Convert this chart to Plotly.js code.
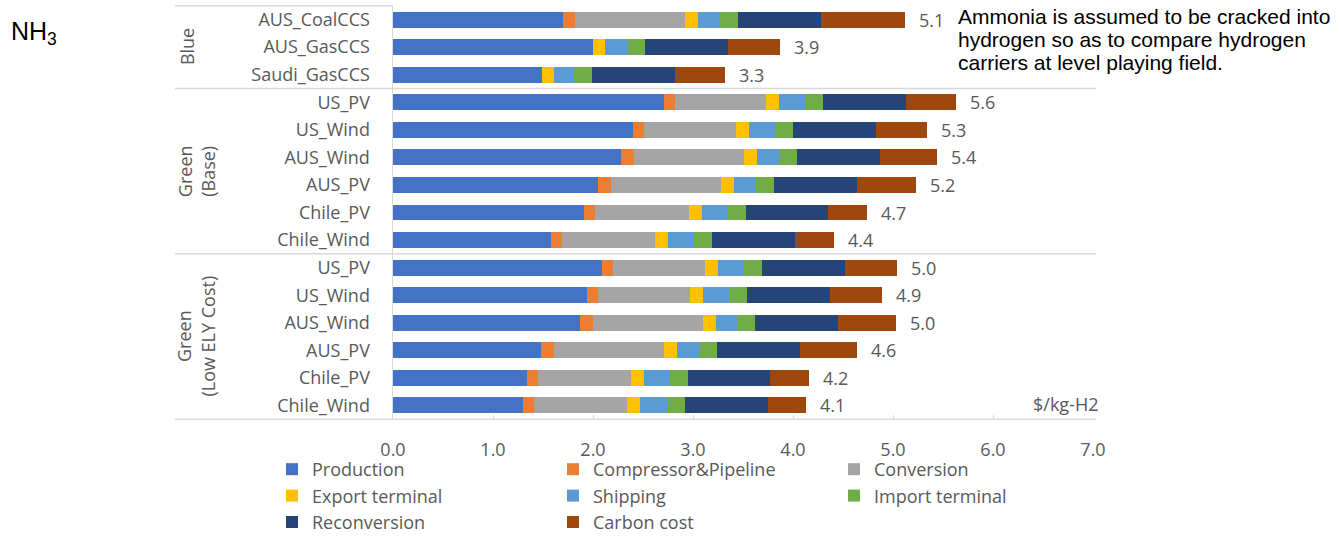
<!DOCTYPE html>
<html>
<head>
<meta charset="utf-8">
<script src="https://cdn.plot.ly/plotly-3.0.1.min.js"></script>
<style>html,body{margin:0;padding:0;background:#fff;}#chart{width:1340px;height:541px;}</style>
</head>
<body>
<div id="chart"></div>
<script>
// ---- data ----
const groupNames = ["Blue", "Green<br>(Base)", "Green<br>(Low ELY Cost)"];
const groupOfRow = [0,0,0, 1,1,1,1,1,1, 2,2,2,2,2,2];
const rowNames = ["AUS_CoalCCS","AUS_GasCCS","Saudi_GasCCS",
  "US_PV","US_Wind","AUS_Wind","AUS_PV","Chile_PV","Chile_Wind",
  "US_PV","US_Wind","AUS_Wind","AUS_PV","Chile_PV","Chile_Wind"];
const production   = [1.70,2.00,1.49, 2.71,2.40,2.28,2.05,1.91,1.58, 2.09,1.94,1.87,1.48,1.34,1.30];
const compressor   = [0.12,0.00,0.00, 0.11,0.11,0.13,0.13,0.11,0.11, 0.11,0.11,0.13,0.13,0.11,0.11];
const conversion   = [1.10,0.00,0.00, 0.91,0.92,1.10,1.10,0.94,0.93, 0.92,0.92,1.10,1.10,0.93,0.93];
const exportTerm   = [0.13,0.12,0.12, 0.13,0.13,0.13,0.13,0.13,0.13, 0.13,0.13,0.13,0.13,0.13,0.13];
const shipping     = [0.22,0.22,0.20, 0.26,0.26,0.22,0.22,0.26,0.26, 0.26,0.26,0.21,0.22,0.26,0.27];
const importTerm   = [0.18,0.18,0.18, 0.18,0.18,0.18,0.18,0.18,0.18, 0.18,0.18,0.18,0.18,0.18,0.18];
const reconversion = [0.83,0.83,0.83, 0.83,0.83,0.83,0.83,0.82,0.83, 0.83,0.83,0.83,0.83,0.82,0.83];
const carbon       = [0.84,0.52,0.50, 0.50,0.51,0.57,0.59,0.39,0.39, 0.52,0.52,0.58,0.57,0.39,0.38];
const seriesNames  = ["Production","Compressor&Pipeline","Conversion","Export terminal","Shipping","Import terminal","Reconversion","Carbon cost"];
const seriesColors = ["#4472C4","#ED7D31","#A5A5A5","#FFC000","#5B9BD5","#70AD47","#264478","#9E480E"];
const xTicks = [0,1,2,3,4,5,6,7];
const noteLines = ["Ammonia is assumed to be cracked into", "hydrogen so as to compare hydrogen", "carriers at level playing field."];

// ---- build ----
const seriesValues = [production, compressor, conversion, exportTerm, shipping, importTerm, reconversion, carbon];
const keys = rowNames.map((n,i) => "g" + groupOfRow[i] + ":" + n);
const totals = rowNames.map((n,i) => seriesValues.reduce((s,arr) => s + arr[i], 0));

const FONT = "Open Sans, Noto Sans, sans-serif";
const ARIAL = "Liberation Sans, Arial, sans-serif";
const GRAY = "#595959";
const LINE = "#d9d9d9";
const FS = 18;

// plot-area geometry (pixels) used to place free texts in paper coordinates
const M = {l: 393, r: 247, t: 5, b: 121};
const PW = 1340 - M.l - M.r, PH = 541 - M.t - M.b;
const px = x => (x - M.l) / PW;
const py = y => (541 - M.b - y) / PH;

const traces = seriesValues.map((vals, k) => ({
  type: "bar",
  orientation: "h",
  name: seriesNames[k],
  x: vals,
  y: keys,
  marker: {color: seriesColors[k], line: {width: 0}},
  hoverinfo: "skip"
}));

const annotations = [];
// totals
keys.forEach((key,i) => {
  annotations.push({
    x: totals[i], y: key, xref: "x", yref: "y",
    text: (Math.round(totals[i]*10)/10).toFixed(1),
    showarrow: false, xanchor: "left", xshift: 12,
    font: {family: FONT, size: FS, color: GRAY}
  });
});
// group labels
const groupRows = groupNames.map((g,gi) => groupOfRow.map((v,i)=>v===gi?i:-1).filter(i=>i>=0));
groupNames.forEach((g,gi) => {
  const r = groupRows[gi];
  annotations.push({
    x: gi === 0 ? px(187) : px(196), xref: "paper",
    y: (r[0] + r[r.length-1]) / 2, yref: "y",
    text: g, textangle: -90, showarrow: false,
    xanchor: "center", yanchor: "middle", align: "center",
    font: {family: FONT, size: FS, color: GRAY}
  });
});
// note text, one annotation per line
noteLines.forEach((t, li) => {
  annotations.push({
    x: px(956), xref: "paper", y: py(16.5 + li*23), yref: "paper",
    text: t, showarrow: false, xanchor: "left", yanchor: "middle", align: "left",
    font: {family: ARIAL, size: 21, color: "#000"}
  });
});
annotations.push({
  x: px(9), xref: "paper", y: py(33), yref: "paper",
  text: "NH<sub>3</sub>", showarrow: false, xanchor: "left", yanchor: "middle",
  font: {family: ARIAL, size: 25, color: "#000"}
});
annotations.push({
  x: px(1100), xref: "paper", y: py(404), yref: "paper",
  text: "$/kg-H2", showarrow: false, xanchor: "right", yanchor: "middle",
  font: {family: FONT, size: FS, color: GRAY}
});

// separator lines
const shapes = [];
const lineStyle = {color: LINE, width: 1.5};
shapes.push({type: "line", xref: "paper", yref: "y", x0: px(175), x1: 0, y0: -0.5, y1: -0.5, line: lineStyle});
let acc = 0;
groupRows.forEach((r,gi) => {
  acc += r.length;
  shapes.push({type: "line", xref: "paper", yref: "y", x0: px(175), x1: px(1096), y0: acc - 0.5, y1: acc - 0.5, line: lineStyle});
});

const layout = {
  width: 1340, height: 541,
  margin: {l: M.l, r: M.r, t: M.t, b: M.b, pad: 0, autoexpand: false},
  paper_bgcolor: "#fff", plot_bgcolor: "#fff",
  barmode: "stack", bargap: 0.42,
  font: {family: FONT, size: FS, color: GRAY},
  xaxis: {
    range: [0, 7], tickvals: xTicks, ticktext: xTicks.map(v => v.toFixed(1)),
    showgrid: false, zeroline: false, showline: false,
    ticks: "inside", ticklen: 5, tickcolor: LINE, tickwidth: 1,
    ticklabelstandoff: 17,
    tickfont: {family: FONT, size: FS, color: GRAY}, fixedrange: true
  },
  yaxis: {
    type: "category", categoryorder: "array", categoryarray: keys,
    tickvals: keys, ticktext: rowNames, autorange: "reversed",
    showgrid: false, zeroline: false, showline: true, linecolor: LINE, linewidth: 1.5,
    ticks: "", ticklabelstandoff: 18,
    tickfont: {family: FONT, size: FS, color: GRAY}, fixedrange: true
  },
  legend: {
    orientation: "h", x: px(272), xanchor: "left",
    y: py(451), yanchor: "top",
    entrywidth: 236, entrywidthmode: "pixels", traceorder: "normal",
    itemwidth: 30, tracegroupgap: 0,
    font: {family: FONT, size: FS, color: GRAY}, bgcolor: "rgba(0,0,0,0)"
  },
  annotations: annotations,
  shapes: shapes,
  showlegend: true
};

Plotly.newPlot("chart", traces, layout, {displayModeBar: false, staticPlot: true});
</script>
</body>
</html>
